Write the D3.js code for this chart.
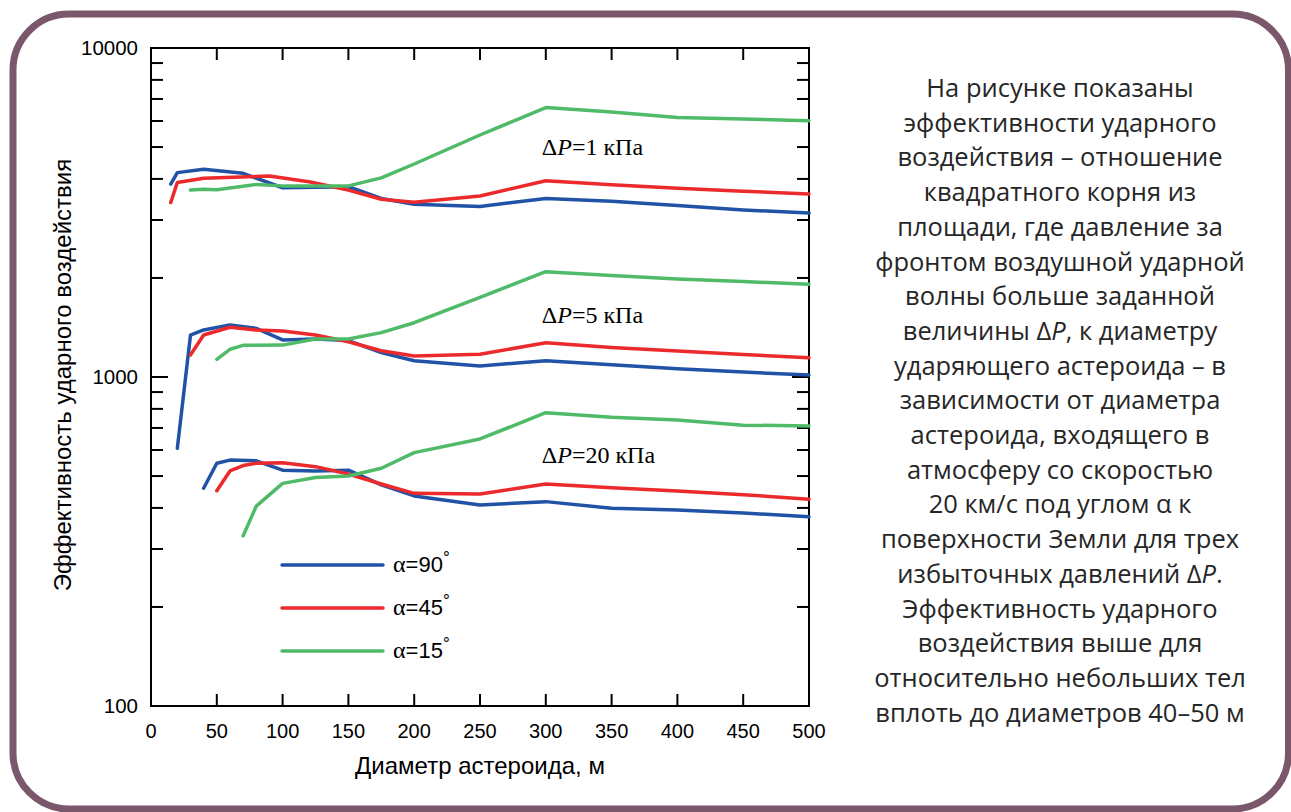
<!DOCTYPE html>
<html>
<head>
<meta charset="utf-8">
<script src="https://cdn.jsdelivr.net/npm/d3@7"></script>
<style>
  html, body { margin: 0; padding: 0; background: #ffffff; }
  svg { display: block; }
</style>
</head>
<body>
<svg id="chart" width="1291" height="812"></svg>
<script>
// Asteroid diameter (m) and impact efficiency for three overpressures and three entry angles
const diam1_90 = [15, 20, 40, 70, 100, 150, 175, 200, 250, 300, 350, 400, 450, 500];
const eff1_90  = [3860, 4180, 4280, 4160, 3760, 3790, 3490, 3350, 3300, 3490, 3420, 3320, 3220, 3150];
const diam1_45 = [15, 20, 40, 90, 120, 150, 175, 200, 250, 300, 350, 400, 450, 500];
const eff1_45  = [3390, 3900, 4020, 4080, 3920, 3700, 3470, 3400, 3550, 3950, 3840, 3750, 3670, 3600];
const diam1_15 = [30, 40, 50, 80, 100, 150, 175, 200, 250, 300, 350, 400, 450, 500];
const eff1_15  = [3700, 3720, 3710, 3850, 3810, 3810, 4030, 4440, 5440, 6590, 6390, 6150, 6080, 6010];

const diam5_90 = [20, 30, 40, 60, 80, 100, 125, 150, 175, 200, 250, 300, 350, 400, 450, 500];
const eff5_90  = [607, 1340, 1390, 1440, 1405, 1296, 1305, 1290, 1186, 1121, 1080, 1121, 1090, 1060, 1035, 1014];
const diam5_45 = [30, 40, 60, 80, 100, 125, 150, 175, 200, 250, 300, 350, 400, 450, 500];
const eff5_45  = [1167, 1342, 1416, 1390, 1380, 1342, 1280, 1202, 1158, 1172, 1271, 1230, 1200, 1170, 1145];
const diam5_15 = [50, 60, 70, 100, 125, 150, 175, 200, 250, 300, 350, 400, 450, 500];
const eff5_15  = [1132, 1214, 1248, 1250, 1305, 1305, 1364, 1462, 1747, 2089, 2035, 1986, 1950, 1913];

const diam20_90 = [40, 50, 60, 80, 100, 125, 150, 175, 200, 250, 300, 350, 400, 450, 500];
const eff20_90  = [459, 547, 559, 556, 521, 518, 521, 470, 435, 408, 418, 399, 394, 386, 376];
const diam20_45 = [50, 60, 70, 80, 100, 125, 150, 175, 200, 250, 300, 350, 400, 450, 500];
const eff20_45  = [451, 518, 538, 547, 549, 534, 507, 473, 443, 441, 473, 461, 450, 439, 425];
const diam20_15 = [70, 80, 100, 125, 150, 175, 200, 250, 300, 350, 400, 450, 500];
const eff20_15  = [329, 405, 475, 495, 500, 528, 589, 648, 779, 754, 740, 714, 710];

const angles = ["90", "45", "15"];
const angleColors = ["#2052a6", "#ec2a2c", "#4fbb69"];
const pressureLabels = ["1", "5", "20"];
const pressureLabelAt = [[300, 4730], [300, 1460], [300, 548]];

const xTicks = [0, 50, 100, 150, 200, 250, 300, 350, 400, 450, 500];
const yMajorTicks = [100, 1000, 10000];

// Caption lines; "|P|" marks an italic P
const captionLines = [
  "На рисунке показаны",
  "эффективности ударного",
  "воздействия – отношение",
  "квадратного корня из",
  "площади, где давление за",
  "фронтом воздушной ударной",
  "волны больше заданной",
  "величины Δ|P|, к диаметру",
  "ударяющего астероида – в",
  "зависимости от диаметра",
  "астероида, входящего в",
  "атмосферу со скоростью",
  "20 км/с под углом α к",
  "поверхности Земли для трех",
  "избыточных давлений Δ|P|.",
  "Эффективность ударного",
  "воздействия выше для",
  "относительно небольших тел",
  "вплоть до диаметров 40–50 м"
];

const series = [
  { d: diam1_90, v: eff1_90, a: 0 }, { d: diam1_45, v: eff1_45, a: 1 }, { d: diam1_15, v: eff1_15, a: 2 },
  { d: diam5_90, v: eff5_90, a: 0 }, { d: diam5_45, v: eff5_45, a: 1 }, { d: diam5_15, v: eff5_15, a: 2 },
  { d: diam20_90, v: eff20_90, a: 0 }, { d: diam20_45, v: eff20_45, a: 1 }, { d: diam20_15, v: eff20_15, a: 2 }
];

const svg = d3.select("#chart");

// Rounded card frame
svg.append("rect")
  .attr("x", 13).attr("y", 14)
  .attr("width", 1275.5).attr("height", 795)
  .attr("rx", 56).attr("ry", 56)
  .attr("fill", "#ffffff")
  .attr("stroke", "#7b576b")
  .attr("stroke-width", 7);

const plotLeft = 151, plotRight = 809, plotTop = 48, plotBottom = 706;
const x = d3.scaleLinear().domain([0, 500]).range([plotLeft, plotRight]);
const y = d3.scaleLog().domain([100, 10000]).range([plotBottom, plotTop]);

const axisFont = "Liberation Sans, Arial, sans-serif";

// Minor log ticks (2..9 in each decade)
const minorTicks = [];
[100, 1000].forEach(dec => { for (let k = 2; k <= 9; k++) minorTicks.push(dec * k); });

const g = svg.append("g");

// Frame ticks: inward on all sides
const tickG = g.append("g").attr("stroke", "#000").attr("stroke-width", 2);
xTicks.slice(1, -1).forEach(t => {
  tickG.append("line").attr("x1", x(t)).attr("x2", x(t)).attr("y1", plotBottom).attr("y2", plotBottom - 12);
  tickG.append("line").attr("x1", x(t)).attr("x2", x(t)).attr("y1", plotTop).attr("y2", plotTop + 12);
});
minorTicks.forEach(t => {
  tickG.append("line").attr("x1", plotLeft).attr("x2", plotLeft + 12).attr("y1", y(t)).attr("y2", y(t));
  tickG.append("line").attr("x1", plotRight).attr("x2", plotRight - 12).attr("y1", y(t)).attr("y2", y(t));
});
yMajorTicks.slice(1, -1).forEach(t => {
  tickG.append("line").attr("x1", plotLeft).attr("x2", plotLeft + 17).attr("y1", y(t)).attr("y2", y(t));
  tickG.append("line").attr("x1", plotRight).attr("x2", plotRight - 17).attr("y1", y(t)).attr("y2", y(t));
});

g.append("rect")
  .attr("x", plotLeft).attr("y", plotTop)
  .attr("width", plotRight - plotLeft).attr("height", plotBottom - plotTop)
  .attr("fill", "none").attr("stroke", "#000").attr("stroke-width", 2);

// Tick labels
g.selectAll(".xl").data(xTicks).enter().append("text")
  .attr("x", d => x(d)).attr("y", 738)
  .attr("text-anchor", "middle")
  .attr("font-family", axisFont).attr("font-size", 20)
  .text(d => d);

g.selectAll(".yl").data(yMajorTicks).enter().append("text")
  .attr("x", 138).attr("y", d => y(d) + 7)
  .attr("text-anchor", "end")
  .attr("font-family", axisFont).attr("font-size", 20.5)
  .text(d => d);

// Axis titles
g.append("text")
  .attr("x", 480).attr("y", 774)
  .attr("text-anchor", "middle")
  .attr("font-family", axisFont).attr("font-size", 24)
  .text("Диаметр астероида, м");

g.append("text")
  .attr("transform", "translate(71,375) rotate(-90)")
  .attr("text-anchor", "middle")
  .attr("font-family", axisFont).attr("font-size", 24)
  .text("Эффективность ударного воздействия");

// Curves
const line = d3.line().x(p => x(p[0])).y(p => y(p[1]));
g.append("g").selectAll("path").data(series).enter().append("path")
  .attr("d", s => line(s.d.map((dd, i) => [dd, s.v[i]])))
  .attr("fill", "none")
  .attr("stroke", s => angleColors[s.a])
  .attr("stroke-width", 3.5)
  .attr("stroke-linejoin", "round")
  .attr("stroke-linecap", "round");

// Overpressure labels
const pl = g.append("g").selectAll("text").data(pressureLabels).enter().append("text")
  .attr("x", (d, i) => x(pressureLabelAt[i][0]) - 4)
  .attr("y", (d, i) => y(pressureLabelAt[i][1]))
  .attr("font-family", "Liberation Serif, Times New Roman, serif")
  .attr("font-size", 24);
pl.append("tspan").text("Δ");
pl.append("tspan").attr("font-style", "italic").text("P");
pl.append("tspan").text(d => "=" + d + " кПа");

// Legend
const lg = g.append("g");
angles.forEach((a, i) => {
  const ly = 565 + i * 43;
  lg.append("line")
    .attr("x1", 282).attr("x2", 383).attr("y1", ly).attr("y2", ly)
    .attr("stroke", angleColors[i]).attr("stroke-width", 3.5).attr("stroke-linecap", "round");
  const t = lg.append("text").attr("x", 393).attr("y", ly + 7)
    .attr("font-family", axisFont).attr("font-size", 22);
  t.append("tspan").attr("font-family", "Liberation Serif, serif").attr("font-size", 24).text("α");
  t.append("tspan").text("=" + a);
  t.append("tspan").attr("dy", -9).attr("font-size", 17).text("°");
});

// Caption text on the right
const cap = svg.append("g").selectAll("text").data(captionLines).enter().append("text")
  .attr("x", 1060)
  .attr("y", (d, i) => 97 + i * 34.7)
  .attr("text-anchor", "middle")
  .attr("font-family", "Open Sans, sans-serif")
  .attr("font-size", 25.5)
  .attr("fill", "#262626");
cap.each(function(d) {
  const parts = d.split("|");
  const t = d3.select(this);
  parts.forEach((p, k) => {
    const sp = t.append("tspan").text(p);
    if (k % 2 === 1) sp.attr("font-style", "italic");
  });
});
</script>
</body>
</html>
